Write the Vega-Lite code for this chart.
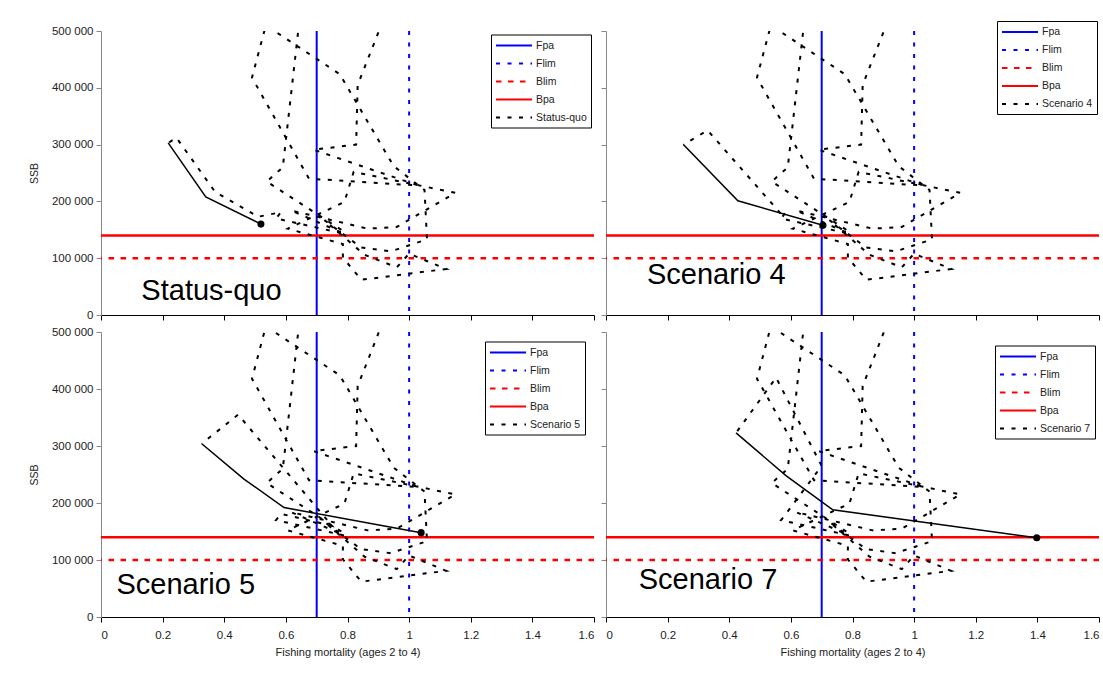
{
"$schema": "https://vega.github.io/schema/vega-lite/v6.json",
"padding": {"left": 29, "top": 20, "right": 0, "bottom": 0},
"background": "white",
"config": {
  "view": {"stroke": null},
  "axis": {"grid": false, "tickSize": 5, "labelFont": "Liberation Sans", "labelFontSize": 11.5, "labelColor": "#222", "titleFont": "Liberation Sans", "titleFontSize": 11, "titleFontWeight": "normal", "titleColor": "#222", "domainColor": "#000", "tickColor": "#000", "labelPadding": 3},
  "axisX": {"labelPadding": 7, "titlePadding": 6},
  "axisY": {"domainColor": "#888", "tickColor": "#888", "titlePadding": 12, "titleFontSize": 10.5},
  "legend": {"symbolType": "M-1,0H5", "symbolSize": 144, "symbolStrokeWidth": 2, "labelFont": "Liberation Sans", "labelFontSize": 10.5, "labelColor": "#222", "padding": 4, "rowPadding": 5, "strokeColor": "#000", "fillColor": "#fff", "labelOffset": 27}
},
"datasets": {
  "refs": [
    {"series": "Fpa", "F": 0.7},
    {"series": "Flim", "F": 1.0},
    {"series": "Blim", "SSB": 100000},
    {"series": "Bpa", "SSB": 140000}
  ],
  "hist": [
    {"series":"Status-quo","o":1,"F":0.78,"SSB":150000},{"series":"Status-quo","o":2,"F":0.538,"SSB":235000},{"series":"Status-quo","o":3,"F":0.59,"SSB":260000},{"series":"Status-quo","o":4,"F":0.665,"SSB":620000},{"series":"Status-quo","o":5,"F":0.96,"SSB":580000},{"series":"Status-quo","o":6,"F":0.833,"SSB":405000},{"series":"Status-quo","o":7,"F":0.828,"SSB":300000},{"series":"Status-quo","o":8,"F":0.69,"SSB":291000},{"series":"Status-quo","o":9,"F":1.03,"SSB":228000},{"series":"Status-quo","o":10,"F":0.675,"SSB":240000},{"series":"Status-quo","o":11,"F":0.49,"SSB":418000},{"series":"Status-quo","o":12,"F":0.535,"SSB":510000},{"series":"Status-quo","o":13,"F":0.775,"SSB":424000},{"series":"Status-quo","o":14,"F":0.95,"SSB":262000},{"series":"Status-quo","o":15,"F":1.05,"SSB":220000},{"series":"Status-quo","o":16,"F":1.058,"SSB":133000},{"series":"Status-quo","o":17,"F":0.94,"SSB":112000},{"series":"Status-quo","o":18,"F":0.844,"SSB":119000},{"series":"Status-quo","o":19,"F":0.725,"SSB":167000},{"series":"Status-quo","o":20,"F":0.855,"SSB":106000},{"series":"Status-quo","o":21,"F":0.96,"SSB":84000},{"series":"Status-quo","o":22,"F":1.0,"SSB":108000},{"series":"Status-quo","o":23,"F":1.12,"SSB":81000},{"series":"Status-quo","o":24,"F":0.845,"SSB":62000},{"series":"Status-quo","o":25,"F":0.785,"SSB":101000},{"series":"Status-quo","o":26,"F":0.785,"SSB":125000},{"series":"Status-quo","o":27,"F":0.606,"SSB":152000},{"series":"Status-quo","o":28,"F":0.79,"SSB":199000},{"series":"Status-quo","o":29,"F":0.82,"SSB":252000},{"series":"Status-quo","o":30,"F":1.15,"SSB":215000},{"series":"Status-quo","o":31,"F":0.96,"SSB":155000},{"series":"Status-quo","o":32,"F":0.865,"SSB":152000},{"series":"Status-quo","o":33,"F":0.617,"SSB":184000},{"series":"Status-quo","o":34,"F":0.79,"SSB":143000},{"series":"Status-quo","o":35,"F":0.568,"SSB":170000},{"series":"Status-quo","o":36,"F":0.584,"SSB":181000},
    {"series":"Status-quo","o":37,"F":0.51,"SSB":173000},{"series":"Status-quo","o":38,"F":0.37,"SSB":217000},{"series":"Status-quo","o":39,"F":0.245,"SSB":312000},{"series":"Status-quo","o":40,"F":0.218,"SSB":303000},
    {"series":"Scenario 4","o":1,"F":0.78,"SSB":150000},{"series":"Scenario 4","o":2,"F":0.538,"SSB":235000},{"series":"Scenario 4","o":3,"F":0.59,"SSB":260000},{"series":"Scenario 4","o":4,"F":0.665,"SSB":620000},{"series":"Scenario 4","o":5,"F":0.96,"SSB":580000},{"series":"Scenario 4","o":6,"F":0.833,"SSB":405000},{"series":"Scenario 4","o":7,"F":0.828,"SSB":300000},{"series":"Scenario 4","o":8,"F":0.69,"SSB":291000},{"series":"Scenario 4","o":9,"F":1.03,"SSB":228000},{"series":"Scenario 4","o":10,"F":0.675,"SSB":240000},{"series":"Scenario 4","o":11,"F":0.49,"SSB":418000},{"series":"Scenario 4","o":12,"F":0.535,"SSB":510000},{"series":"Scenario 4","o":13,"F":0.775,"SSB":424000},{"series":"Scenario 4","o":14,"F":0.95,"SSB":262000},{"series":"Scenario 4","o":15,"F":1.05,"SSB":220000},{"series":"Scenario 4","o":16,"F":1.058,"SSB":133000},{"series":"Scenario 4","o":17,"F":0.94,"SSB":112000},{"series":"Scenario 4","o":18,"F":0.844,"SSB":119000},{"series":"Scenario 4","o":19,"F":0.725,"SSB":167000},{"series":"Scenario 4","o":20,"F":0.855,"SSB":106000},{"series":"Scenario 4","o":21,"F":0.96,"SSB":84000},{"series":"Scenario 4","o":22,"F":1.0,"SSB":108000},{"series":"Scenario 4","o":23,"F":1.12,"SSB":81000},{"series":"Scenario 4","o":24,"F":0.845,"SSB":62000},{"series":"Scenario 4","o":25,"F":0.785,"SSB":101000},{"series":"Scenario 4","o":26,"F":0.785,"SSB":125000},{"series":"Scenario 4","o":27,"F":0.606,"SSB":152000},{"series":"Scenario 4","o":28,"F":0.79,"SSB":199000},{"series":"Scenario 4","o":29,"F":0.82,"SSB":252000},{"series":"Scenario 4","o":30,"F":1.15,"SSB":215000},{"series":"Scenario 4","o":31,"F":0.96,"SSB":155000},{"series":"Scenario 4","o":32,"F":0.865,"SSB":152000},{"series":"Scenario 4","o":33,"F":0.617,"SSB":184000},{"series":"Scenario 4","o":34,"F":0.79,"SSB":143000},{"series":"Scenario 4","o":35,"F":0.568,"SSB":170000},{"series":"Scenario 4","o":36,"F":0.584,"SSB":181000},
    {"series":"Scenario 4","o":37,"F":0.568,"SSB":178000},{"series":"Scenario 4","o":38,"F":0.33,"SSB":325000},{"series":"Scenario 4","o":39,"F":0.251,"SSB":300000},
    {"series":"Scenario 5","o":1,"F":0.78,"SSB":150000},{"series":"Scenario 5","o":2,"F":0.538,"SSB":235000},{"series":"Scenario 5","o":3,"F":0.59,"SSB":260000},{"series":"Scenario 5","o":4,"F":0.665,"SSB":620000},{"series":"Scenario 5","o":5,"F":0.96,"SSB":580000},{"series":"Scenario 5","o":6,"F":0.833,"SSB":405000},{"series":"Scenario 5","o":7,"F":0.828,"SSB":300000},{"series":"Scenario 5","o":8,"F":0.69,"SSB":291000},{"series":"Scenario 5","o":9,"F":1.03,"SSB":228000},{"series":"Scenario 5","o":10,"F":0.675,"SSB":240000},{"series":"Scenario 5","o":11,"F":0.49,"SSB":418000},{"series":"Scenario 5","o":12,"F":0.535,"SSB":510000},{"series":"Scenario 5","o":13,"F":0.775,"SSB":424000},{"series":"Scenario 5","o":14,"F":0.95,"SSB":262000},{"series":"Scenario 5","o":15,"F":1.05,"SSB":220000},{"series":"Scenario 5","o":16,"F":1.058,"SSB":133000},{"series":"Scenario 5","o":17,"F":0.94,"SSB":112000},{"series":"Scenario 5","o":18,"F":0.844,"SSB":119000},{"series":"Scenario 5","o":19,"F":0.725,"SSB":167000},{"series":"Scenario 5","o":20,"F":0.855,"SSB":106000},{"series":"Scenario 5","o":21,"F":0.96,"SSB":84000},{"series":"Scenario 5","o":22,"F":1.0,"SSB":108000},{"series":"Scenario 5","o":23,"F":1.12,"SSB":81000},{"series":"Scenario 5","o":24,"F":0.845,"SSB":62000},{"series":"Scenario 5","o":25,"F":0.785,"SSB":101000},{"series":"Scenario 5","o":26,"F":0.785,"SSB":125000},{"series":"Scenario 5","o":27,"F":0.606,"SSB":152000},{"series":"Scenario 5","o":28,"F":0.79,"SSB":199000},{"series":"Scenario 5","o":29,"F":0.82,"SSB":252000},{"series":"Scenario 5","o":30,"F":1.15,"SSB":215000},{"series":"Scenario 5","o":31,"F":0.96,"SSB":155000},{"series":"Scenario 5","o":32,"F":0.865,"SSB":152000},{"series":"Scenario 5","o":33,"F":0.617,"SSB":184000},{"series":"Scenario 5","o":34,"F":0.79,"SSB":143000},{"series":"Scenario 5","o":35,"F":0.568,"SSB":170000},{"series":"Scenario 5","o":36,"F":0.584,"SSB":181000},
    {"series":"Scenario 5","o":37,"F":0.75,"SSB":160000},{"series":"Scenario 5","o":38,"F":0.445,"SSB":355000},{"series":"Scenario 5","o":39,"F":0.327,"SSB":304000},
    {"series":"Scenario 7","o":1,"F":0.78,"SSB":150000},{"series":"Scenario 7","o":2,"F":0.538,"SSB":235000},{"series":"Scenario 7","o":3,"F":0.59,"SSB":260000},{"series":"Scenario 7","o":4,"F":0.665,"SSB":620000},{"series":"Scenario 7","o":5,"F":0.96,"SSB":580000},{"series":"Scenario 7","o":6,"F":0.833,"SSB":405000},{"series":"Scenario 7","o":7,"F":0.828,"SSB":300000},{"series":"Scenario 7","o":8,"F":0.69,"SSB":291000},{"series":"Scenario 7","o":9,"F":1.03,"SSB":228000},{"series":"Scenario 7","o":10,"F":0.675,"SSB":240000},{"series":"Scenario 7","o":11,"F":0.49,"SSB":418000},{"series":"Scenario 7","o":12,"F":0.535,"SSB":510000},{"series":"Scenario 7","o":13,"F":0.775,"SSB":424000},{"series":"Scenario 7","o":14,"F":0.95,"SSB":262000},{"series":"Scenario 7","o":15,"F":1.05,"SSB":220000},{"series":"Scenario 7","o":16,"F":1.058,"SSB":133000},{"series":"Scenario 7","o":17,"F":0.94,"SSB":112000},{"series":"Scenario 7","o":18,"F":0.844,"SSB":119000},{"series":"Scenario 7","o":19,"F":0.725,"SSB":167000},{"series":"Scenario 7","o":20,"F":0.855,"SSB":106000},{"series":"Scenario 7","o":21,"F":0.96,"SSB":84000},{"series":"Scenario 7","o":22,"F":1.0,"SSB":108000},{"series":"Scenario 7","o":23,"F":1.12,"SSB":81000},{"series":"Scenario 7","o":24,"F":0.845,"SSB":62000},{"series":"Scenario 7","o":25,"F":0.785,"SSB":101000},{"series":"Scenario 7","o":26,"F":0.785,"SSB":125000},{"series":"Scenario 7","o":27,"F":0.606,"SSB":152000},{"series":"Scenario 7","o":28,"F":0.79,"SSB":199000},{"series":"Scenario 7","o":29,"F":0.82,"SSB":252000},{"series":"Scenario 7","o":30,"F":1.15,"SSB":215000},{"series":"Scenario 7","o":31,"F":0.96,"SSB":155000},{"series":"Scenario 7","o":32,"F":0.865,"SSB":152000},{"series":"Scenario 7","o":33,"F":0.617,"SSB":184000},{"series":"Scenario 7","o":34,"F":0.79,"SSB":143000},{"series":"Scenario 7","o":35,"F":0.568,"SSB":170000},{"series":"Scenario 7","o":36,"F":0.584,"SSB":181000},
    {"series":"Scenario 7","o":37,"F":0.70,"SSB":265000},{"series":"Scenario 7","o":38,"F":0.552,"SSB":420000},{"series":"Scenario 7","o":39,"F":0.422,"SSB":323000}
  ],
  "proj": [
    {"series":"Status-quo","o":1,"F":0.218,"SSB":303000},{"series":"Status-quo","o":2,"F":0.34,"SSB":208000},{"series":"Status-quo","o":3,"F":0.519,"SSB":160000},
    {"series":"Scenario 4","o":1,"F":0.251,"SSB":300000},{"series":"Scenario 4","o":2,"F":0.428,"SSB":201000},{"series":"Scenario 4","o":3,"F":0.704,"SSB":158000},
    {"series":"Scenario 5","o":1,"F":0.327,"SSB":304000},{"series":"Scenario 5","o":2,"F":0.464,"SSB":242000},{"series":"Scenario 5","o":3,"F":0.594,"SSB":192000},{"series":"Scenario 5","o":4,"F":1.039,"SSB":148000},
    {"series":"Scenario 7","o":1,"F":0.422,"SSB":323000},{"series":"Scenario 7","o":2,"F":0.584,"SSB":248000},{"series":"Scenario 7","o":3,"F":0.736,"SSB":188000},{"series":"Scenario 7","o":4,"F":1.398,"SSB":139000}
  ]
},
"columns": 2,
"spacing": {"row": 17, "column": 12},
"bounds": "flush",
"resolve": {"scale": {"x": "independent", "y": "independent", "color": "independent", "strokeDash": "independent"}, "legend": {"color": "independent", "strokeDash": "independent"}},
"concat": [
  {"width": 493, "height": 284,
   "layer": [
    {"data": {"name": "refs"}, "transform": [{"filter": {"field": "F", "valid": true}}],
     "mark": {"type": "rule", "strokeWidth": 2},
     "encoding": {
      "x": {"field": "F", "type": "quantitative", "scale": {"domain": [0, 1.6], "nice": false}, "axis": {"values": [0, 0.2, 0.4, 0.6, 0.8, 1, 1.2, 1.4, 1.6], "labels": false, "title": null}},
      "color": {"field": "series", "type": "nominal", "scale": {"domain": ["Fpa", "Flim", "Blim", "Bpa", "Status-quo"], "range": ["#0000FF", "#0000FF", "#FF0000", "#FF0000", "#000000"]}, "legend": {"title": null, "orient": "none", "legendX": 390, "legendY": 3.5, "symbolType": "M-1,0H5"}},
      "strokeDash": {"field": "series", "type": "nominal", "scale": {"domain": ["Fpa", "Flim", "Blim", "Bpa", "Status-quo"], "range": [[1, 0], [4, 7.5], [5.5, 6.5], [1, 0], [4, 7.5]]}, "legend": {"title": null, "orient": "none", "legendX": 390, "legendY": 3.5, "symbolType": "M-1,0H5"}}}},
    {"data": {"name": "refs"}, "transform": [{"filter": {"field": "SSB", "valid": true}}],
     "mark": {"type": "rule", "strokeWidth": 2.5},
     "encoding": {
      "y": {"field": "SSB", "type": "quantitative", "scale": {"domain": [0, 500000], "nice": false}, "axis": {"values": [0, 100000, 200000, 300000, 400000, 500000], "labelExpr": "replace(format(datum.value, ','), ',', ' ')", "title": "SSB"}},
      "color": {"field": "series", "type": "nominal"},
      "strokeDash": {"field": "series", "type": "nominal"}}},
    {"data": {"name": "hist"}, "transform": [{"filter": {"field": "series", "equal": "Status-quo"}}],
     "mark": {"type": "line", "strokeWidth": 2, "clip": true},
     "encoding": {
      "x": {"field": "F", "type": "quantitative", "scale": {"domain": [0, 1.6], "nice": false}},
      "y": {"field": "SSB", "type": "quantitative", "scale": {"domain": [0, 500000], "nice": false}},
      "order": {"field": "o", "type": "quantitative"},
      "color": {"field": "series", "type": "nominal"},
      "strokeDash": {"field": "series", "type": "nominal"}}},
    {"data": {"name": "proj"}, "transform": [{"filter": {"field": "series", "equal": "Status-quo"}}],
     "mark": {"type": "line", "color": "#000", "strokeWidth": 1.5},
     "encoding": {"x": {"field": "F", "type": "quantitative"}, "y": {"field": "SSB", "type": "quantitative"}, "order": {"field": "o", "type": "quantitative"}}},
    {"data": {"name": "proj"}, "transform": [{"filter": {"field": "series", "equal": "Status-quo"}}, {"joinaggregate": [{"op": "max", "field": "o", "as": "last"}]}, {"filter": "datum.o == datum.last"}],
     "mark": {"type": "point", "filled": true, "color": "#000", "size": 50, "opacity": 1},
     "encoding": {"x": {"field": "F", "type": "quantitative"}, "y": {"field": "SSB", "type": "quantitative"}}},
    {"data": {"values": [{}]},
     "mark": {"type": "text", "text": "Status-quo", "align": "left", "baseline": "alphabetic", "fontSize": 29, "font": "Liberation Sans", "color": "#000"},
     "encoding": {"x": {"datum": 0.131, "type": "quantitative"}, "y": {"datum": 26000, "type": "quantitative"}}}
   ]},
  {"width": 493, "height": 284,
   "layer": [
    {"data": {"name": "refs"}, "transform": [{"filter": {"field": "F", "valid": true}}],
     "mark": {"type": "rule", "strokeWidth": 2},
     "encoding": {
      "x": {"field": "F", "type": "quantitative", "scale": {"domain": [0, 1.6], "nice": false}, "axis": {"values": [0, 0.2, 0.4, 0.6, 0.8, 1, 1.2, 1.4, 1.6], "labels": false, "title": null}},
      "color": {"field": "series", "type": "nominal", "scale": {"domain": ["Fpa", "Flim", "Blim", "Bpa", "Scenario 4"], "range": ["#0000FF", "#0000FF", "#FF0000", "#FF0000", "#000000"]}, "legend": {"title": null, "orient": "none", "legendX": 391, "legendY": -10, "symbolType": "M-1,0H5"}},
      "strokeDash": {"field": "series", "type": "nominal", "scale": {"domain": ["Fpa", "Flim", "Blim", "Bpa", "Scenario 4"], "range": [[1, 0], [4, 7.5], [5.5, 6.5], [1, 0], [4, 7.5]]}, "legend": {"title": null, "orient": "none", "legendX": 391, "legendY": -10, "symbolType": "M-1,0H5"}}}},
    {"data": {"name": "refs"}, "transform": [{"filter": {"field": "SSB", "valid": true}}],
     "mark": {"type": "rule", "strokeWidth": 2.5},
     "encoding": {
      "y": {"field": "SSB", "type": "quantitative", "scale": {"domain": [0, 500000], "nice": false}, "axis": {"values": [0, 100000, 200000, 300000, 400000, 500000], "labels": false, "title": null}},
      "color": {"field": "series", "type": "nominal"},
      "strokeDash": {"field": "series", "type": "nominal"}}},
    {"data": {"name": "hist"}, "transform": [{"filter": {"field": "series", "equal": "Scenario 4"}}],
     "mark": {"type": "line", "strokeWidth": 2, "clip": true},
     "encoding": {
      "x": {"field": "F", "type": "quantitative", "scale": {"domain": [0, 1.6], "nice": false}},
      "y": {"field": "SSB", "type": "quantitative", "scale": {"domain": [0, 500000], "nice": false}},
      "order": {"field": "o", "type": "quantitative"},
      "color": {"field": "series", "type": "nominal"},
      "strokeDash": {"field": "series", "type": "nominal"}}},
    {"data": {"name": "proj"}, "transform": [{"filter": {"field": "series", "equal": "Scenario 4"}}],
     "mark": {"type": "line", "color": "#000", "strokeWidth": 1.5},
     "encoding": {"x": {"field": "F", "type": "quantitative"}, "y": {"field": "SSB", "type": "quantitative"}, "order": {"field": "o", "type": "quantitative"}}},
    {"data": {"name": "proj"}, "transform": [{"filter": {"field": "series", "equal": "Scenario 4"}}, {"joinaggregate": [{"op": "max", "field": "o", "as": "last"}]}, {"filter": "datum.o == datum.last"}],
     "mark": {"type": "point", "filled": true, "color": "#000", "size": 50, "opacity": 1},
     "encoding": {"x": {"field": "F", "type": "quantitative"}, "y": {"field": "SSB", "type": "quantitative"}}},
    {"data": {"values": [{}]},
     "mark": {"type": "text", "text": "Scenario 4", "align": "left", "baseline": "alphabetic", "fontSize": 29, "font": "Liberation Sans", "color": "#000"},
     "encoding": {"x": {"datum": 0.133, "type": "quantitative"}, "y": {"datum": 55000, "type": "quantitative"}}}
   ]},
  {"width": 493, "height": 285,
   "layer": [
    {"data": {"name": "refs"}, "transform": [{"filter": {"field": "F", "valid": true}}],
     "mark": {"type": "rule", "strokeWidth": 2},
     "encoding": {
      "x": {"field": "F", "type": "quantitative", "scale": {"domain": [0, 1.6], "nice": false}, "axis": {"values": [0, 0.2, 0.4, 0.6, 0.8, 1, 1.2, 1.4, 1.6], "format": "~g", "title": "Fishing mortality (ages 2 to 4)"}},
      "color": {"field": "series", "type": "nominal", "scale": {"domain": ["Fpa", "Flim", "Blim", "Bpa", "Scenario 5"], "range": ["#0000FF", "#0000FF", "#FF0000", "#FF0000", "#000000"]}, "legend": {"title": null, "orient": "none", "legendX": 384, "legendY": 9.5, "symbolType": "M-1,0H5"}},
      "strokeDash": {"field": "series", "type": "nominal", "scale": {"domain": ["Fpa", "Flim", "Blim", "Bpa", "Scenario 5"], "range": [[1, 0], [4, 7.5], [5.5, 6.5], [1, 0], [4, 7.5]]}, "legend": {"title": null, "orient": "none", "legendX": 384, "legendY": 9.5, "symbolType": "M-1,0H5"}}}},
    {"data": {"name": "refs"}, "transform": [{"filter": {"field": "SSB", "valid": true}}],
     "mark": {"type": "rule", "strokeWidth": 2.5},
     "encoding": {
      "y": {"field": "SSB", "type": "quantitative", "scale": {"domain": [0, 500000], "nice": false}, "axis": {"values": [0, 100000, 200000, 300000, 400000, 500000], "labelExpr": "replace(format(datum.value, ','), ',', ' ')", "title": "SSB"}},
      "color": {"field": "series", "type": "nominal"},
      "strokeDash": {"field": "series", "type": "nominal"}}},
    {"data": {"name": "hist"}, "transform": [{"filter": {"field": "series", "equal": "Scenario 5"}}],
     "mark": {"type": "line", "strokeWidth": 2, "clip": true},
     "encoding": {
      "x": {"field": "F", "type": "quantitative", "scale": {"domain": [0, 1.6], "nice": false}},
      "y": {"field": "SSB", "type": "quantitative", "scale": {"domain": [0, 500000], "nice": false}},
      "order": {"field": "o", "type": "quantitative"},
      "color": {"field": "series", "type": "nominal"},
      "strokeDash": {"field": "series", "type": "nominal"}}},
    {"data": {"name": "proj"}, "transform": [{"filter": {"field": "series", "equal": "Scenario 5"}}],
     "mark": {"type": "line", "color": "#000", "strokeWidth": 1.5},
     "encoding": {"x": {"field": "F", "type": "quantitative"}, "y": {"field": "SSB", "type": "quantitative"}, "order": {"field": "o", "type": "quantitative"}}},
    {"data": {"name": "proj"}, "transform": [{"filter": {"field": "series", "equal": "Scenario 5"}}, {"joinaggregate": [{"op": "max", "field": "o", "as": "last"}]}, {"filter": "datum.o == datum.last"}],
     "mark": {"type": "point", "filled": true, "color": "#000", "size": 50, "opacity": 1},
     "encoding": {"x": {"field": "F", "type": "quantitative"}, "y": {"field": "SSB", "type": "quantitative"}}},
    {"data": {"values": [{}]},
     "mark": {"type": "text", "text": "Scenario 5", "align": "left", "baseline": "alphabetic", "fontSize": 29, "font": "Liberation Sans", "color": "#000"},
     "encoding": {"x": {"datum": 0.05, "type": "quantitative"}, "y": {"datum": 40000, "type": "quantitative"}}}
   ]},
  {"width": 493, "height": 285,
   "layer": [
    {"data": {"name": "refs"}, "transform": [{"filter": {"field": "F", "valid": true}}],
     "mark": {"type": "rule", "strokeWidth": 2},
     "encoding": {
      "x": {"field": "F", "type": "quantitative", "scale": {"domain": [0, 1.6], "nice": false}, "axis": {"values": [0, 0.2, 0.4, 0.6, 0.8, 1, 1.2, 1.4, 1.6], "format": "~g", "title": "Fishing mortality (ages 2 to 4)"}},
      "color": {"field": "series", "type": "nominal", "scale": {"domain": ["Fpa", "Flim", "Blim", "Bpa", "Scenario 7"], "range": ["#0000FF", "#0000FF", "#FF0000", "#FF0000", "#000000"]}, "legend": {"title": null, "orient": "none", "legendX": 389, "legendY": 13.5, "symbolType": "M-1,0H5"}},
      "strokeDash": {"field": "series", "type": "nominal", "scale": {"domain": ["Fpa", "Flim", "Blim", "Bpa", "Scenario 7"], "range": [[1, 0], [4, 7.5], [5.5, 6.5], [1, 0], [4, 7.5]]}, "legend": {"title": null, "orient": "none", "legendX": 389, "legendY": 13.5, "symbolType": "M-1,0H5"}}}},
    {"data": {"name": "refs"}, "transform": [{"filter": {"field": "SSB", "valid": true}}],
     "mark": {"type": "rule", "strokeWidth": 2.5},
     "encoding": {
      "y": {"field": "SSB", "type": "quantitative", "scale": {"domain": [0, 500000], "nice": false}, "axis": {"values": [0, 100000, 200000, 300000, 400000, 500000], "labels": false, "title": null}},
      "color": {"field": "series", "type": "nominal"},
      "strokeDash": {"field": "series", "type": "nominal"}}},
    {"data": {"name": "hist"}, "transform": [{"filter": {"field": "series", "equal": "Scenario 7"}}],
     "mark": {"type": "line", "strokeWidth": 2, "clip": true},
     "encoding": {
      "x": {"field": "F", "type": "quantitative", "scale": {"domain": [0, 1.6], "nice": false}},
      "y": {"field": "SSB", "type": "quantitative", "scale": {"domain": [0, 500000], "nice": false}},
      "order": {"field": "o", "type": "quantitative"},
      "color": {"field": "series", "type": "nominal"},
      "strokeDash": {"field": "series", "type": "nominal"}}},
    {"data": {"name": "proj"}, "transform": [{"filter": {"field": "series", "equal": "Scenario 7"}}],
     "mark": {"type": "line", "color": "#000", "strokeWidth": 1.5},
     "encoding": {"x": {"field": "F", "type": "quantitative"}, "y": {"field": "SSB", "type": "quantitative"}, "order": {"field": "o", "type": "quantitative"}}},
    {"data": {"name": "proj"}, "transform": [{"filter": {"field": "series", "equal": "Scenario 7"}}, {"joinaggregate": [{"op": "max", "field": "o", "as": "last"}]}, {"filter": "datum.o == datum.last"}],
     "mark": {"type": "point", "filled": true, "color": "#000", "size": 50, "opacity": 1},
     "encoding": {"x": {"field": "F", "type": "quantitative"}, "y": {"field": "SSB", "type": "quantitative"}}},
    {"data": {"values": [{}]},
     "mark": {"type": "text", "text": "Scenario 7", "align": "left", "baseline": "alphabetic", "fontSize": 29, "font": "Liberation Sans", "color": "#000"},
     "encoding": {"x": {"datum": 0.106, "type": "quantitative"}, "y": {"datum": 48400, "type": "quantitative"}}}
   ]}
]
}
